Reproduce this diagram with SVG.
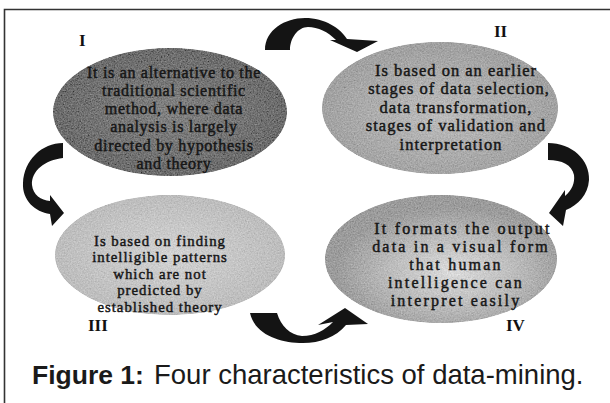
<svg xmlns="http://www.w3.org/2000/svg" width="610" height="403" viewBox="0 0 610 403">
<defs>
<filter id="grain" x="0" y="0" width="1" height="1">
<feTurbulence type="fractalNoise" baseFrequency="0.7" numOctaves="3" seed="4" result="t"/>
<feColorMatrix in="t" type="matrix" values="0.33 0.33 0.33 0 0  0.33 0.33 0.33 0 0  0.33 0.33 0.33 0 0  0 0 0 0 1" result="g"/>
<feComposite in="SourceGraphic" in2="g" operator="arithmetic" k1="0" k2="1" k3="0.5" k4="-0.25" result="m"/>
<feComposite in="m" in2="SourceAlpha" operator="in"/>
</filter>
<radialGradient id="g1" cx="0.5" cy="0.5" r="0.5"><stop offset="0" stop-color="#828282"/><stop offset="1" stop-color="#6c6c6c"/></radialGradient>
<radialGradient id="g2" cx="0.5" cy="0.55" r="0.5"><stop offset="0" stop-color="#bcbcbc"/><stop offset="1" stop-color="#a2a2a2"/></radialGradient>
<radialGradient id="g3" cx="0.5" cy="0.5" r="0.5"><stop offset="0" stop-color="#d2d2d2"/><stop offset="1" stop-color="#bdbdbd"/></radialGradient>
<radialGradient id="g4" cx="0.55" cy="0.6" r="0.5"><stop offset="0" stop-color="#dcdcdc"/><stop offset="0.6" stop-color="#b8b8b8"/><stop offset="1" stop-color="#9c9c9c"/></radialGradient>
<style>
.ell{filter:url(#grain);}
.t{font-family:"Liberation Serif","Times New Roman",serif;fill:#161616;text-anchor:middle;stroke:#161616;stroke-width:0.45;}
.t1{font-size:16px;letter-spacing:0.7px;}
.t2{font-size:16.5px;letter-spacing:1px;}
.t3{font-size:14.8px;letter-spacing:1px;}
.t4{font-size:16px;letter-spacing:2.2px;}
.num{font-family:"Liberation Serif","Times New Roman",serif;font-size:17px;font-weight:bold;fill:#111;}
.arrow{fill:#141414;}
.cap{font-family:"Liberation Sans",Arial,sans-serif;fill:#1a1a1a;}
</style>
</defs>
<rect width="610" height="403" fill="#fff"/>
<g id="frame" stroke="#333" stroke-width="1.6" fill="none">
<path d="M4.5 403 V9.5 H610"/>
</g>
<g id="node-I">
<ellipse class="ell" cx="170" cy="112" rx="117" ry="64" fill="url(#g1)"/>
<text class="num" x="79" y="46">I</text>
<text class="t t1" x="174" y="78">It is an alternative to the</text>
<text class="t t1" x="174" y="96">traditional scientific</text>
<text class="t t1" x="174" y="114">method, where data</text>
<text class="t t1" x="174" y="132">analysis is largely</text>
<text class="t t1" x="174" y="151">directed by hypothesis</text>
<text class="t t1" x="174" y="169">and theory</text>
</g>
<g id="node-II">
<ellipse class="ell" cx="440" cy="108" rx="118" ry="66" fill="url(#g2)"/>
<text class="num" x="494" y="37">II</text>
<text class="t t2" x="456" y="76">Is based on an earlier</text>
<text class="t t2" x="459" y="94">stages of data selection,</text>
<text class="t t2" x="456" y="113">data transformation,</text>
<text class="t t2" x="456" y="131">stages of validation and</text>
<text class="t t2" x="451" y="150">interpretation</text>
</g>
<g id="node-III">
<ellipse class="ell" cx="170" cy="255" rx="115" ry="60" fill="url(#g3)"/>
<text class="num" x="88" y="331">III</text>
<text class="t t3" x="160" y="246">Is based on finding</text>
<text class="t t3" x="160" y="262">intelligible patterns</text>
<text class="t t3" x="160" y="279">which are not</text>
<text class="t t3" x="160" y="295">predicted by</text>
<text class="t t3" x="160" y="312">established theory</text>
</g>
<g id="node-IV">
<ellipse class="ell" cx="441" cy="259" rx="116" ry="64" fill="url(#g4)"/>
<text class="num" x="506" y="331">IV</text>
<text class="t t4" x="463" y="234">It formats the output</text>
<text class="t t4" x="461" y="252">data in a visual form</text>
<text class="t t4" x="456" y="270">that human</text>
<text class="t t4" x="456" y="288">intelligence can</text>
<text class="t t4" x="456" y="306">interpret easily</text>
</g>
<g id="connectors">
<path class="arrow" d="M265,50 C265,30 285,18 305,18 C325,18 340,28 347,39 L378,41 L357,52 L330,40 L336,40 C328,32 318,27 308,27 C298,27 290,38 290,50 Z"/>
<path class="arrow" d="M548,143 C572,143 590,160 589,180 C588,195 578,205 566,210 L563,226 L549,213 L565,190 L565,196 C572,190 575,183 574,175 C572,165 562,160 548,160 Z"/>
<path class="arrow" d="M63,143 L63,158 C45,160 31,171 32,185 C33,195 41,200 50,201 L50,195 L64,213 L52,226 L50,214 C35,212 22,200 23,183 C24,160 42,143 63,143 Z"/>
<path class="arrow" d="M250,313 L277,313 C281,326 290,335 302,336 C315,336 325,330 333,322 L318,325 L345,308 L368,324 L346,325 C336,337 320,343 303,343 C280,343 255,335 250,313 Z"/>
</g>
<g id="caption">
<text class="cap" x="32" y="384"><tspan font-weight="bold" font-size="26.5px">Figure 1:</tspan><tspan x="154" font-size="27.5px">Four characteristics of data-mining.</tspan></text>
</g>
</svg>
